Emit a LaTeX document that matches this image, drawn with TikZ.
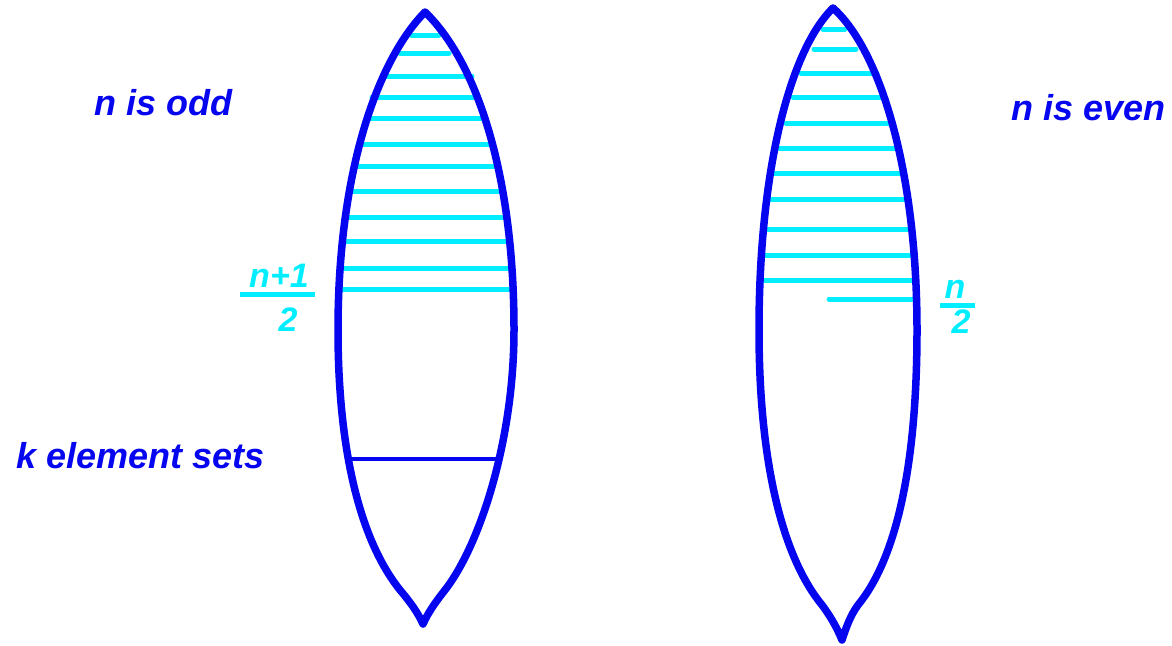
\documentclass[tikz,border=0pt]{standalone}
\usepackage{fontspec}
\setmainfont{Liberation Sans}
\definecolor{setblue}{RGB}{5,5,240}
\definecolor{rowcyan}{RGB}{0,238,255}

\begin{document}
\begin{tikzpicture}[x=1pt,y=-1pt,
  outline/.style={setblue,line width=7.5pt,line join=round},
  chord/.style={setblue,line width=4.5pt},
  row/.style={rowcyan,line width=5pt,line cap=round},
  fracbar/.style={rowcyan,line width=5pt},
  lbl/.style={setblue,font=\fontsize{36}{40}\selectfont\bfseries\itshape,inner sep=0pt,anchor=base west},
  frac/.style={rowcyan,font=\fontsize{34}{38}\selectfont\bfseries\itshape,inner sep=0pt,anchor=base}]
\useasboundingbox (0,0) rectangle (1172,645);

\coordinate (oddtop) at (425,12);
\coordinate (oddbot) at (423,624);
\coordinate (eventop) at (833,8);
\coordinate (evenbot) at (842,640);

% rows of the odd case
\draw[row] (411,35) -- (439,35);
\draw[row] (400,53) -- (449,53);
\draw[row] (385,76) -- (472,76);
\draw[row] (372,97) -- (477,97);
\draw[row] (366,118) -- (483,118);
\draw[row] (360,144) -- (492,144);
\draw[row] (354,166) -- (496,166);
\draw[row] (352,191) -- (500,191);
\draw[row] (347,217) -- (504,217);
\draw[row] (344,241) -- (507,241);
\draw[row] (341,268) -- (510,268);
\draw[row] (340,289) -- (510,289);

% rows of the even case
\draw[row] (823,29) -- (845,29);
\draw[row] (814,49) -- (856,49);
\draw[row] (801,73) -- (877,73);
\draw[row] (793,97) -- (883,97);
\draw[row] (786,123) -- (890,123);
\draw[row] (779,148) -- (898,148);
\draw[row] (774,173) -- (901,173);
\draw[row] (770,199) -- (907,199);
\draw[row] (768,229) -- (910,229);
\draw[row] (766,255) -- (912,255);
\draw[row] (764,280) -- (912,280);
\draw[row] (829,299) -- (912,299);

% k element sets
\draw[chord] (350,459) -- (500,459);

% left lens
\draw[outline] (oddtop) .. controls (475,60) and (514,170) .. (514,330)
  .. controls (514,440) and (480,545) .. (445,590)
  .. controls (434,604) and (428,613) .. (oddbot)
  .. controls (418,613) and (411,603) .. (400,590)
  .. controls (360,540) and (338,450) .. (338,330)
  .. controls (338,170) and (378,60) .. (oddtop) -- cycle;

% right lens
\draw[outline] (eventop) .. controls (880,50) and (917,170) .. (917,330)
  .. controls (917,470) and (895,560) .. (858,605)
  .. controls (850,616) and (846,628) .. (evenbot)
  .. controls (837,628) and (831,617) .. (822,605)
  .. controls (785,560) and (759,470) .. (759,330)
  .. controls (759,170) and (790,50) .. (eventop) -- cycle;

\node[lbl] (odd) at (94,115) {n is odd};
\node[lbl] (even) at (1011,120) {n is even};
\node[lbl] (kset) at (16,468) {k element sets};

\node[frac] (oddnum) at (279,287) {n+1};
\node[frac] (oddden) at (288,331) {2};
\draw[fracbar] (240,294) -- (315,294);

\node[frac] (evennum) at (955,298) {n};
\node[frac] (evenden) at (961,333) {2};
\draw[fracbar] (940,305) -- (975,305);
\end{tikzpicture}
\end{document}
